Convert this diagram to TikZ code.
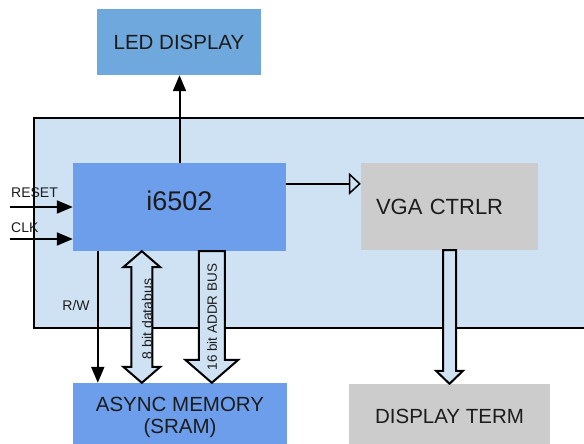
\documentclass[tikz,border=0pt]{standalone}
\usepackage{fontspec}
\setmainfont{Liberation Sans}
\usetikzlibrary{arrows.meta,calc}

\definecolor{fondo}{HTML}{CFE2F3}
\definecolor{azulled}{HTML}{6FA8DC}
\definecolor{azulcpu}{HTML}{6D9EEB}
\definecolor{gris}{HTML}{CCCCCC}
\definecolor{texto}{HTML}{1C1C1C}

\tikzset{
  bloque/.style={text=texto, inner sep=0pt, align=center,
    font=\fontsize{20.5}{22}\selectfont},
  etiq/.style={text=texto, inner sep=0pt, font=\fontsize{14}{16}\selectfont},
  flecha/.style={line width=2pt, -{Triangle[length=16pt,width=13pt]}},
  flechaabierta/.style={line width=1.5pt, -{Triangle[open,length=12pt,width=22pt]}},
  bus/.style={line width=2pt, fill=fondo, line join=miter}
}

\begin{document}
\begin{tikzpicture}[x=1pt,y=1pt]
\useasboundingbox (0,0) rectangle (584,444);
\begin{scope}
    \clip (0,0) rectangle (584,444);
    %——————————————————————————————————————————————
    % Placa (caja exterior, cortada a la derecha)
    %——————————————————————————————————————————————
    \draw[line width=2pt, fill=fondo] (34,116) rectangle (600,326);

    %——————————————————————————————————————————————
    % Bloques
    %——————————————————————————————————————————————
    \node[bloque, fill=azulled, minimum width=164, minimum height=66] (led) at (179,402) {LED DISPLAY};
    \node[bloque, fill=azulcpu, minimum width=213, minimum height=88, text depth=12pt,
          font=\fontsize{27}{30}\selectfont] (cpu) at (179.5,237) {i6502};
    \node[bloque, fill=gris, minimum width=177, minimum height=87, text width=147pt,
          align=left, font=\fontsize{22}{24}\selectfont] (vga) at (449.5,237.5) {VGA CTRLR};
    \node[bloque, fill=azulcpu, minimum width=214, minimum height=69] (mem) at (180,26.5) {ASYNC MEMORY\\(SRAM)};
    \node[bloque, fill=gris, minimum width=201, minimum height=64] (term) at (449.5,28) {DISPLAY TERM};

    %——————————————————————————————————————————————
    % Entradas RESET y CLK
    %——————————————————————————————————————————————
    \coordinate (reset) at (10,237);
    \coordinate (clk) at (10,205);
    \draw[flecha] (reset) -- (reset -| cpu.west);
    \draw[flecha] (clk) -- (clk -| cpu.west);
    \node[etiq, anchor=west] (lreset) at (11,251) {RESET};
    \node[etiq, anchor=west] (lclk) at (11,216) {CLK};

    %——————————————————————————————————————————————
    % Señales simples
    %——————————————————————————————————————————————
    \draw[flecha] (cpu.north) -- (cpu.north |- led.south);
    \draw[flecha] ($(cpu.south west)+(25,0)$) -- ($(mem.north west)+(25,0)$);
    \node[etiq] (lrw) at (76,139) {R/W};
    \draw[flechaabierta] ($(cpu.north east)+(0,-21)$) -- ($(vga.north west)+(0,-21)$);

    %——————————————————————————————————————————————
    % Buses (flechas gruesas)
    %——————————————————————————————————————————————
    % Bus de datos, doble sentido
    \coordinate (dbtop) at ($(cpu.south west)+(69,0)$);
    \coordinate (dbbot) at ($(mem.north west)+(69,0)$);
    \draw[bus] (dbtop) -- ++(18.5,-16) -- ++(-8,0) -- ($(dbbot)+(10.5,16)$) -- ++(8,0)
      -- (dbbot) -- ++(-18.5,16) -- ++(8,0) -- ($(dbtop)+(-10.5,-16)$) -- ++(-8,0) -- cycle;
    \node[etiq, rotate=90] (ldb) at (147,125) {8 bit databus};

    % Bus de direcciones
    \coordinate (abtop) at ($(cpu.south west)+(139,0)$);
    \coordinate (abbot) at ($(mem.north west)+(139,0)$);
    \draw[bus] ($(abtop)+(-13,0)$) -- ($(abtop)+(13,0)$) -- ($(abbot)+(13,23)$) -- ++(13.5,0)
      -- (abbot) -- ++(-26.5,23) -- ++(13.5,0) -- cycle;
    \node[etiq, rotate=90, font=\fontsize{13.5}{15}\selectfont] (lab) at (212,127) {16 bit ADDR BUS};

    % Salida de video
    \draw[bus] ($(vga.south)+(-6.5,0)$) -- ($(vga.south)+(6.5,0)$) -- ($(term.north)+(6.5,13)$)
      -- ++(7,0) -- (term.north) -- ++(-13.5,13) -- ++(7,0) -- cycle;
\end{scope}
\end{tikzpicture}
\end{document}
